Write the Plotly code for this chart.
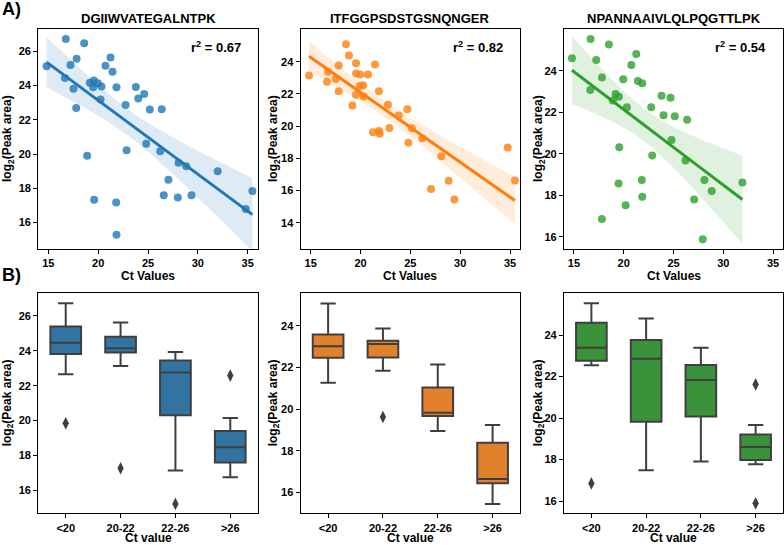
import numpy as np
import plotly.graph_objects as go
from html import escape

W, H = 784, 545

# ---- A) Ct value vs log2(peak area), one pair of arrays per peptide
peptides = ["DGIIWVATEGALNTPK", "ITFGGPSDSTGSNQNGER", "NPANNAAIVLQLPQGTTLPK"]
r2_values = ["0.67", "0.82", "0.54"]

ct_dgi = [14.83, 16.76, 18.6, 17.84, 17.23, 16.67, 17.53, 17.8, 19.17, 19.57,
          19.5, 19.97, 20.34, 20.24, 20.74, 21.24, 21.44, 21.84, 23.78, 22.75,
          24.02, 24.62, 18.9, 22.85, 19.6, 21.81, 21.84, 25.18, 26.38, 24.82,
          26.22, 27.05, 28.06, 28.83, 31.99, 26.58, 27.99, 29.36, 34.8, 35.47]
area_dgi = [25.13, 26.72, 26.47, 25.57, 25.2, 24.44, 23.82, 22.69, 24.17, 24.29,
            23.9, 24.13, 23.94, 23.18, 25.16, 25.63, 24.81, 23.9, 23.92, 22.87,
            23.24, 23.51, 19.9, 20.23, 17.33, 17.17, 15.29, 22.6, 22.62, 20.6,
            20.17, 18.5, 19.5, 19.29, 19.0, 17.6, 17.46, 17.6, 16.8, 17.84]

ct_itf = [14.83, 18.54, 18.84, 16.74, 16.64, 17.81, 17.51, 17.81, 19.55, 19.55,
          19.98, 19.92, 20.25, 19.55, 19.18, 20.32, 20.75, 21.45, 21.85, 22.75,
          23.83, 24.7, 22.89, 21.25, 21.85, 21.92, 25.16, 24.8, 26.2, 28.11,
          27.07, 28.84, 29.41, 34.76, 35.49]
area_itf = [23.15, 25.08, 24.39, 23.38, 22.76, 23.77, 22.92, 22.17, 23.9, 23.27,
            23.21, 22.49, 22.53, 21.95, 21.28, 21.84, 23.21, 23.83, 22.17, 21.32,
            20.66, 21.05, 19.89, 19.62, 19.7, 19.52, 19.87, 18.96, 19.25, 18.13,
            16.1, 16.6, 15.45, 18.67, 16.63]

ct_npa = [14.8, 16.67, 18.51, 17.24, 16.64, 17.81, 19.18, 18.91, 19.51, 20.32,
          19.95, 20.76, 21.26, 21.42, 21.86, 22.76, 23.8, 24.7, 24.0, 25.13,
          26.37, 24.8, 22.86, 19.55, 26.2, 19.48, 21.82, 21.86, 20.19, 17.81,
          28.11, 28.84, 27.07, 27.94, 31.92]
area_npa = [24.61, 25.54, 25.27, 24.53, 23.08, 23.68, 22.89, 22.57, 22.76, 22.25,
            23.6, 24.29, 24.82, 23.52, 23.41, 22.25, 22.8, 22.71, 21.86, 21.82,
            21.65, 20.67, 19.92, 20.32, 19.68, 18.57, 18.75, 17.94, 17.53, 16.87,
            18.75, 18.22, 17.8, 15.89, 18.63]

# ---- B) box summaries per Ct bin
ct_bins = ["<20", "20-22", "22-26", ">26"]

dgi_q1 = [23.82, 23.9, 20.3, 17.59]
dgi_med = [24.47, 24.15, 22.75, 18.47]
dgi_q3 = [25.39, 24.81, 23.44, 19.4]
dgi_lo = [22.65, 23.13, 17.13, 16.75]
dgi_hi = [26.73, 25.62, 23.93, 20.15]
dgi_out_bin = ["<20", "20-22", "22-26", ">26"]
dgi_out_val = [19.84, 17.26, 15.22, 22.58]

itf_q1 = [22.46, 22.48, 19.66, 16.43]
itf_med = [23.02, 23.12, 19.82, 16.64]
itf_q3 = [23.58, 23.28, 21.04, 18.38]
itf_lo = [21.26, 21.84, 18.94, 15.44]
itf_hi = [25.07, 23.87, 22.14, 19.23]
itf_out_bin = ["20-22"]
itf_out_val = [19.62]

npa_q1 = [22.76, 19.82, 20.08, 17.98]
npa_med = [23.39, 22.86, 21.83, 18.6]
npa_q3 = [24.59, 23.76, 22.55, 19.21]
npa_lo = [22.54, 17.49, 17.91, 17.77]
npa_hi = [25.53, 24.8, 23.39, 19.66]
npa_out_bin = ["<20", ">26", ">26"]
npa_out_val = [16.85, 21.62, 15.89]

COLORS = ["#1f77b4", "#ff7f0e", "#2ca02c"]
DOT = ["rgba(31,119,180,0.8)", "rgba(255,127,14,0.8)", "rgba(44,160,44,0.8)"]
BAND = ["rgba(31,119,180,0.15)", "rgba(255,127,14,0.15)", "rgba(44,160,44,0.15)"]
BOX_FILL = ["#3274a1", "#e1812c", "#3a923a"]
GREY = "#3f3f3f"
FONT = "Liberation Sans, Arial, Helvetica, sans-serif"

# panel frames in pixels (left, right) and (top, bottom)
cols = [(38.3, 257.7), (300.7, 520.0), (564.0, 783.0)]
rows = [(29.0, 249.0), (293.3, 513.3)]
top_yranges = [(14.46, 27.30), (12.37, 26.03), (15.42, 26.02)]
bot_yranges = [(14.68, 27.30), (14.99, 25.56), (15.41, 26.01)]
top_ticks = [list(range(16, 27, 2)), list(range(14, 25, 2)), list(range(16, 25, 2))]
bot_ticks = [list(range(16, 27, 2)), list(range(16, 25, 2)), list(range(16, 25, 2))]


def fit_band(x, y, n_grid=100):
    # ordinary least squares line with a 95% confidence band
    x = np.asarray(x, float)
    y = np.asarray(y, float)
    slope, icpt = np.polyfit(x, y, 1)
    grid = np.linspace(x.min(), x.max(), n_grid)
    pred = icpt + slope * grid
    resid = y - (icpt + slope * x)
    n = len(x)
    s = np.sqrt((resid ** 2).sum() / (n - 2))
    se = s * np.sqrt(1 / n + (grid - x.mean()) ** 2 / ((x - x.mean()) ** 2).sum())
    return grid, pred, pred - 2.03 * se, pred + 2.03 * se


fig = go.Figure()
axis_style = dict(
    showline=True, mirror=True, linecolor="black", linewidth=1.3,
    ticks="outside", ticklen=4, tickwidth=1.2, tickcolor="black",
    showgrid=False, zeroline=False,
    tickfont=dict(family=FONT, size=11, color="black", weight="bold"),
)

scatter_sets = [(ct_dgi, area_dgi), (ct_itf, area_itf), (ct_npa, area_npa)]
box_sets = [
    (dgi_q1, dgi_med, dgi_q3, dgi_lo, dgi_hi, dgi_out_bin, dgi_out_val),
    (itf_q1, itf_med, itf_q3, itf_lo, itf_hi, itf_out_bin, itf_out_val),
    (npa_q1, npa_med, npa_q3, npa_lo, npa_hi, npa_out_bin, npa_out_val),
]

annotations = []
for i in range(3):
    # top row: regression panels
    n = i + 1
    xa, ya = ("x" if n == 1 else f"x{n}"), ("y" if n == 1 else f"y{n}")
    ct, area = scatter_sets[i]
    grid, pred, lo, hi = fit_band(ct, area)
    fig.add_trace(go.Scatter(
        x=np.concatenate([grid, grid[::-1]]), y=np.concatenate([hi, lo[::-1]]),
        fill="toself", fillcolor=BAND[i], line=dict(width=0), mode="lines",
        hoverinfo="skip", xaxis=xa, yaxis=ya))
    fig.add_trace(go.Scatter(
        x=ct, y=area, mode="markers", marker=dict(color=DOT[i], size=8),
        xaxis=xa, yaxis=ya))
    fig.add_trace(go.Scatter(
        x=grid, y=pred, mode="lines", line=dict(color=COLORS[i], width=3),
        xaxis=xa, yaxis=ya))

    l, r = cols[i]
    t, b = rows[0]
    fig.update_layout({
        f"xaxis{n}": dict(axis_style, domain=[l / W, r / W], range=[14.0, 36.0],
                          tickvals=[15, 20, 25, 30, 35], anchor=ya),
        f"yaxis{n}": dict(axis_style, domain=[1 - b / H, 1 - t / H],
                          range=list(top_yranges[i]), tickvals=top_ticks[i], anchor=xa),
    })

    # bottom row: box plots
    m = i + 4
    xb, yb = f"x{m}", f"y{m}"
    q1, med, q3, lof, hif, obin, oval = box_sets[i]
    pos = list(range(len(ct_bins)))
    fig.add_trace(go.Box(
        x=pos, q1=q1, median=med, q3=q3, lowerfence=lof, upperfence=hif,
        boxpoints=False, fillcolor=BOX_FILL[i], line=dict(color=GREY, width=2),
        whiskerwidth=0.5, xaxis=xb, yaxis=yb))
    fig.add_trace(go.Scatter(
        x=[ct_bins.index(c) for c in obin], y=oval, mode="markers",
        marker=dict(symbol="diamond-tall", size=9, color=GREY),
        xaxis=xb, yaxis=yb))
    t, b = rows[1]
    fig.update_layout({
        f"xaxis{m}": dict(axis_style, domain=[l / W, r / W], range=[-0.5, 3.5],
                          tickvals=pos, ticktext=[escape(c) for c in ct_bins], anchor=yb),
        f"yaxis{m}": dict(axis_style, domain=[1 - b / H, 1 - t / H],
                          range=list(bot_yranges[i]), tickvals=bot_ticks[i], anchor=xb),
    })

    cx = (l + r) / 2 / W
    annotations += [
        dict(text=peptides[i], x=cx, y=1 - 18.5 / H, font=dict(size=13, weight="bold")),
        dict(text=f"r<sup>2</sup> = {r2_values[i]}", x=(r - 15) / W, y=1 - 47 / H,
             xanchor="right", font=dict(size=13, weight="bold")),
        dict(text="Ct Values", x=cx, y=1 - 276 / H, font=dict(size=12, weight="bold")),
        dict(text="Ct value", x=cx, y=1 - 538 / H, font=dict(size=12, weight="bold")),
    ]
    ylab_x = [8, 274, 539][i]
    for (t, b) in rows:
        annotations.append(dict(
            text="log<sub>2</sub>(Peak area)", x=ylab_x / W, y=1 - (t + b) / 2 / H,
            textangle=-90, font=dict(size=12, weight="bold")))

annotations += [
    dict(text="A)", x=0, y=1 - 9 / H, xanchor="left", font=dict(size=18, weight="bold")),
    dict(text="B)", x=0, y=1 - 275 / H, xanchor="left", font=dict(size=18, weight="bold")),
]
for a in annotations:
    a.update(xref="paper", yref="paper", showarrow=False)
    a.setdefault("xanchor", "center")
    a.setdefault("yanchor", "middle")
    a["font"] = dict(a["font"], family=FONT, color="black")

fig.update_layout(
    width=W, height=H, margin=dict(l=0, r=0, t=0, b=0),
    plot_bgcolor="white", paper_bgcolor="white", showlegend=False,
    boxgap=0.2, annotations=annotations,
)
fig.update_xaxes(ticklabelstandoff=0)

# page body has a default 8px margin; drop it so the 784x545 figure fills the window
fig.write_html("out.html", config={"displayModeBar": False},
               post_script="document.body.style.margin='0';")
